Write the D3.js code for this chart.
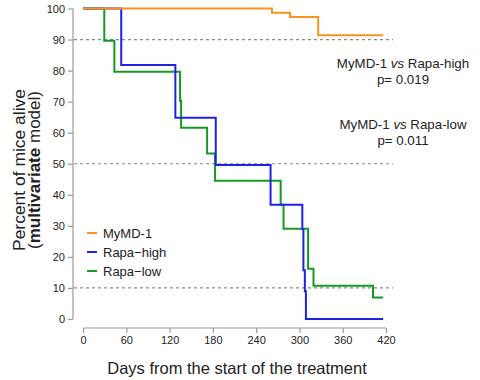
<!DOCTYPE html>
<html>
<head>
<meta charset="utf-8">
<script src="https://cdn.jsdelivr.net/npm/d3@7"></script>
<style>
    body { margin: 0; background: #fff; }
    svg text { font-family: "Liberation Sans", Arial, sans-serif; fill: #222; }
</style>
</head>
<body>
<div id="chart"></div>
<script>
    // Kaplan-Meier steps (day, % alive)
    const mymdDays = [0, 262, 287, 326, 416];
    const mymdVals = [100, 98.6, 97.3, 91.4, 91.4];

    const highDays = [0, 53, 128, 184, 260, 304, 305.5, 307.5, 309, 416];
    const highVals = [100, 81.8, 64.8, 49.6, 36.8, 29.0, 15.7, 8.9, 0, 0];

    const lowDays = [0, 29.5, 43.5, 134.5, 136, 172, 183, 274, 278, 312, 319.5, 402, 416];
    const lowVals = [100, 89.6, 79.6, 70.3, 61.6, 53.3, 44.5, 36.8, 29.1, 16.2, 10.7, 6.9, 6.9];

    const seriesNames = ["MyMD-1", "Rapa\u2212high", "Rapa\u2212low"];
    const seriesColors = ["#f7931e", "#2020e6", "#179a22"];

    const xTicks = [0, 60, 120, 180, 240, 300, 360, 420];
    const yTicks = [0, 10, 20, 30, 40, 50, 60, 70, 80, 90, 100];
    const refLines = [90, 50, 10];

    const width = 480, height = 380;

    const svg = d3.select("#chart").append("svg")
        .attr("width", width)
        .attr("height", height);

    const x = d3.scaleLinear().domain([0, 420]).range([83, 386]);
    const y = d3.scaleLinear().domain([0, 100]).range([319, 8.5]);

    // dashed reference lines
    svg.append("g")
        .selectAll("line")
        .data(refLines)
        .enter().append("line")
        .attr("x1", 74)
        .attr("x2", 393)
        .attr("y1", d => y(d))
        .attr("y2", d => y(d))
        .attr("stroke", "#888")
        .attr("stroke-width", 1.2)
        .attr("stroke-dasharray", "3,3");

    // axes, R style (offset from the plot)
    const yAxis = svg.append("g")
        .attr("transform", "translate(73,0)")
        .call(d3.axisLeft(y).tickValues(yTicks).tickSize(5).tickPadding(3));
    const xAxis = svg.append("g")
        .attr("transform", "translate(0,328)")
        .call(d3.axisBottom(x).tickValues(xTicks).tickSize(5).tickPadding(3));

    [xAxis, yAxis].forEach(function (a) {
        a.selectAll("path, line").attr("stroke", "#999").attr("stroke-width", 1.2);
        a.selectAll("text").style("font-size", "11px").attr("fill", "#222");
    });
    yAxis.select(".domain").attr("d", "M0," + y(100) + "V" + y(0));
    xAxis.select(".domain").attr("d", "M" + x(0) + ",0H" + x(420));

    const line = d3.line()
        .x(d => x(d[0]))
        .y(d => y(d[1]))
        .curve(d3.curveStepAfter);

    const series = [
        d3.zip(mymdDays, mymdVals),
        d3.zip(highDays, highVals),
        d3.zip(lowDays, lowVals)
    ];

    // draw green first, then blue, then orange on top
    [2, 1, 0].forEach(function (i) {
        svg.append("path")
            .datum(series[i])
            .attr("d", line)
            .attr("fill", "none")
            .attr("stroke", seriesColors[i])
            .attr("stroke-width", 2);
    });

    // legend
    const legend = svg.append("g")
        .selectAll("g")
        .data(seriesNames)
        .enter().append("g")
        .attr("transform", (d, i) => "translate(87," + (233 + i * 19) + ")");
    legend.append("line")
        .attr("x1", 0).attr("x2", 10)
        .attr("stroke", (d, i) => seriesColors[i])
        .attr("stroke-width", 2);
    legend.append("text")
        .attr("x", 16)
        .attr("dy", "0.35em")
        .style("font-size", "13px")
        .text(d => d);

    // p-value notes
    const notes = [
        { y: 68, who: "Rapa-high", p: "p= 0.019" },
        { y: 128.5, who: "Rapa-low", p: "p= 0.011" }
    ];
    notes.forEach(function (n) {
        const t = svg.append("text")
            .attr("x", 403)
            .attr("y", n.y)
            .attr("text-anchor", "middle")
            .style("font-size", "13.3px");
        t.append("tspan").text("MyMD-1 ");
        t.append("tspan").style("font-style", "italic").text("vs");
        t.append("tspan").text(" " + n.who);
        svg.append("text")
            .attr("x", 403)
            .attr("y", n.y + 16)
            .attr("text-anchor", "middle")
            .style("font-size", "13.3px")
            .text(n.p);
    });

    // axis titles
    svg.append("text")
        .attr("x", 237)
        .attr("y", 374)
        .attr("text-anchor", "middle")
        .style("font-size", "16.5px")
        .text("Days from the start of the treatment");

    // y title: glyphs in the reference are stretched along the text
    const yl = svg.append("g").attr("transform", "translate(0,170) rotate(-90)");
    yl.append("text")
        .attr("x", 0).attr("y", 25)
        .attr("text-anchor", "middle")
        .attr("textLength", 162)
        .attr("lengthAdjust", "spacingAndGlyphs")
        .style("font-size", "16px")
        .text("Percent of mice alive");
    const yl2 = yl.append("text")
        .attr("x", 0).attr("y", 40)
        .attr("text-anchor", "middle")
        .attr("textLength", 158)
        .attr("lengthAdjust", "spacingAndGlyphs")
        .style("font-size", "16px");
    yl2.append("tspan").text("(");
    yl2.append("tspan").style("font-weight", "bold").text("multivariate");
    yl2.append("tspan").text(" model)");
</script>
</body>
</html>
